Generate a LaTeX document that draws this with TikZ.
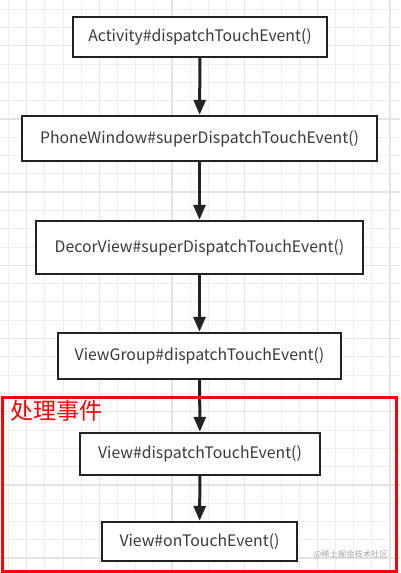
\documentclass[tikz,border=0pt]{standalone}
\usepackage{fontspec}
\setmainfont{Noto Sans CJK SC}
\usetikzlibrary{arrows.meta}
\definecolor{gridminor}{HTML}{EFEFEF}
\definecolor{gridmajor}{HTML}{E4E4E4}
\definecolor{boxline}{HTML}{222222}
\definecolor{txt}{HTML}{3A3A3A}
\tikzset{
  fbox/.style={draw=boxline,line width=2.4pt,fill=white,inner sep=0pt,text=txt,font=\fontsize{15.8}{18}\selectfont},
  flow/.style={draw=boxline,line width=3pt,-{Triangle[length=15pt,width=12pt]}},
}
\begin{document}
\begin{tikzpicture}[x=1pt,y=-1pt]
\useasboundingbox (0,0) rectangle (400,573);
\fill[white] (0,0) rectangle (400,573);
% grid
\foreach \i in {0,...,21} {
  \pgfmathsetmacro\gx{8.5+18.17*\i}
  \draw[gridminor,line width=1pt] (\gx,0) -- (\gx,573);
}
\foreach \i in {0,...,31} {
  \pgfmathsetmacro\gy{9.1+18.3*\i}
  \draw[gridminor,line width=1pt] (0,\gy) -- (400,\gy);
}
\foreach \i in {0,...,5} {
  \pgfmathsetmacro\gx{26.7+72.68*\i}
  \draw[gridmajor,line width=1.5pt] (\gx,0) -- (\gx,573);
}
\foreach \i in {0,...,7} {
  \pgfmathsetmacro\gy{45.7+73.2*\i}
  \draw[gridmajor,line width=1.5pt] (0,\gy) -- (400,\gy);
}
% boxes
\node[fbox,minimum width=254pt,minimum height=40pt] (a) at (200,37) {Activity\#dispatchTouchEvent()};
\node[fbox,minimum width=355pt,minimum height=45pt] (b) at (199.5,138.5) {PhoneWindow\#superDispatchTouchEvent()};
\node[fbox,minimum width=327pt,minimum height=53pt] (c) at (199.5,247.5) {DecorView\#superDispatchTouchEvent()};
\node[fbox,minimum width=283pt,minimum height=46pt] (d) at (199.5,356) {ViewGroup\#dispatchTouchEvent()};
\node[fbox,minimum width=240pt,minimum height=42pt] (e) at (200,454) {View\#dispatchTouchEvent()};
\node[fbox,minimum width=195pt,minimum height=39pt] (f) at (199.5,541.5) {View\#onTouchEvent()};
% arrows
\draw[flow] (a) -- (b);
\draw[flow] (b) -- (c);
\draw[flow] (c) -- (d);
\draw[flow] (d) -- (e);
\draw[flow] (e) -- (f);
% red frame
\node[draw=red,line width=3pt,minimum width=394pt,minimum height=174pt,inner sep=0pt] (frame) at (199,484.5) {};
\node[anchor=north west,text=red,font=\fontsize{23}{25}\selectfont,inner sep=0pt] (lbl) at (10,399.5) {处理事件};
\node[anchor=east,text=black!35,font=\fontsize{8.3}{10}\selectfont,inner sep=0pt] (wm) at (388,555) {@稀土掘金技术社区};
\end{tikzpicture}
\end{document}
